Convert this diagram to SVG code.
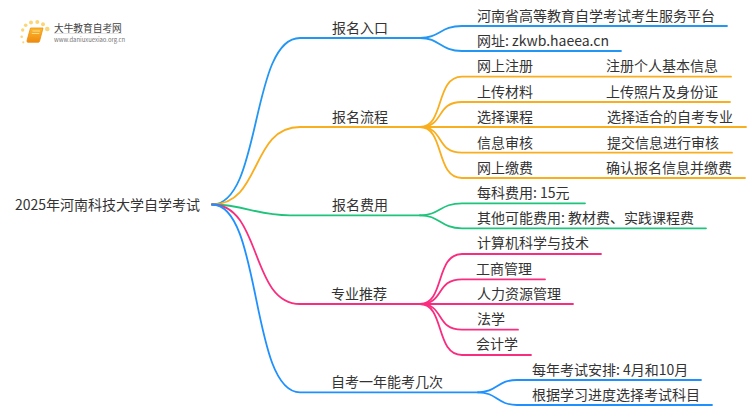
<svg xmlns="http://www.w3.org/2000/svg" width="750" height="410" viewBox="0 0 750 410">
<defs><linearGradient id="bk" x1="0" y1="0" x2="0" y2="1"><stop offset="0" stop-color="#fbb92d"/><stop offset="1" stop-color="#f08a10"/></linearGradient></defs>
<style>
text{font-family:"Noto Sans CJK SC","Noto Sans",sans-serif;font-size:14px;fill:#333}
.c{fill:none;stroke-width:1.8;stroke-linecap:round}
.b{stroke:#2196f3}.o{stroke:#f9ae1e}.g{stroke:#1fc47c}.p{stroke:#f92d7f}.n{stroke:#1e90ff}
.d{fill:#fbd678}
</style>
<rect width="750" height="410" fill="#fff"/>
<g id="logo">
<circle class="d" cx="22.700" cy="30" r="1.700"/><circle class="d" cx="25.700" cy="25.300" r="1.800"/><circle class="d" cx="31" cy="22.500" r="2"/><circle class="d" cx="37.300" cy="22" r="2"/><circle class="d" cx="43" cy="24.300" r="2"/><circle class="d" cx="47.300" cy="29" r="2.300"/><circle class="d" cx="21.700" cy="36.700" r="1.300"/><circle class="d" cx="23.300" cy="42.300" r="1.100"/>
<path d="M30.500 28h12.500l-3.500 13.500q-.3 .8-1.200 .8h-10.300q-1.500 0-1-1.800z" fill="url(#bk)" stroke="#ec8f10" stroke-width="0.800"/>
<path d="M32.500 31h7.500M31.800 33.500h7.500" stroke="#ffe9a8" stroke-width="0.800"/>
<text x="54" y="32" style="font-size:9.700px;fill:#444">大牛教育自考网</text>
<path d="M54 33.500h68" stroke="#ddd" stroke-width="0.800"/>
<text x="54" y="41.500" style="font-size:5.900px;fill:#777">www.daniuxuexiao.org.cn</text>
</g>
<g id="connectors">
<path class="c b" d="M212 204.500C262 204.500 250 38 300 38H420"/>
<path class="c o" d="M212 204.500C262 204.500 250 127 300 127H420"/>
<path class="c g" d="M212 204.500C245 204.500 255 215.300 290 215.300H420"/>
<path class="c p" d="M212 204.500C262 204.500 250 304 300 304H420"/>
<path class="c n" d="M212 204.500C262 204.500 250 392.300 300 392.300H478"/>
<path class="c b" d="M420 38C440 38 440 26 462 26H727"/>
<path class="c b" d="M420 38C440 38 440 51 462 51H621"/>
<path class="c o" d="M420 127C445 127 435 76.700 462 76.700H731"/>
<path class="c o" d="M420 127C445 127 435 102 462 102H730"/>
<path class="c o" d="M420 127H746"/>
<path class="c o" d="M420 127C445 127 435 152.700 462 152.700H732"/>
<path class="c o" d="M420 127C445 127 435 178 462 178H745"/>
<path class="c g" d="M420 215.300C440 215.300 440 203.300 462 203.300H585"/>
<path class="c g" d="M420 215.300C440 215.300 440 228.300 462 228.300H706"/>
<path class="c p" d="M420 304C445 304 435 254 462 254H601"/>
<path class="c p" d="M420 304C445 304 435 279.300 462 279.300H545"/>
<path class="c p" d="M420 304H573"/>
<path class="c p" d="M420 304C445 304 435 329.700 462 329.700H518"/>
<path class="c p" d="M420 304C445 304 435 355 462 355H531"/>
<path class="c n" d="M478 392.300C497 392.300 497 380 517 380H701"/>
<path class="c n" d="M478 392.300C497 392.300 497 405 517 405H712"/>
</g>
<g id="root"><text x="15" y="210">2025年河南科技大学自学考试</text></g>
<g id="n1"><text x="332" y="33">报名入口</text></g>
<g id="n2"><text x="332" y="121.500">报名流程</text></g>
<g id="n3"><text x="332" y="210">报名费用</text></g>
<g id="n4"><text x="331" y="298.500">专业推荐</text></g>
<g id="n5"><text x="331" y="387">自考一年能考几次</text></g>
<g id="n1a"><text x="477" y="21">河南省高等教育自学考试考生服务平台</text></g>
<g id="n1b"><text x="477" y="46">网址: zkwb.haeea.cn</text></g>
<g id="n2a"><text x="477" y="71">网上注册</text><text x="606" y="71">注册个人基本信息</text></g>
<g id="n2b"><text x="477" y="96.500">上传材料</text><text x="606" y="96.500">上传照片及身份证</text></g>
<g id="n2c"><text x="477" y="121.500">选择课程</text><text x="607" y="121.500">选择适合的自考专业</text></g>
<g id="n2d"><text x="477" y="147.500">信息审核</text><text x="607" y="147.500">提交信息进行审核</text></g>
<g id="n2e"><text x="477" y="172.500">网上缴费</text><text x="606" y="172.500">确认报名信息并缴费</text></g>
<g id="n3a"><text x="477" y="198">每科费用: 15元</text></g>
<g id="n3b"><text x="477" y="223">其他可能费用: 教材费、实践课程费</text></g>
<g id="n4a"><text x="477" y="248">计算机科学与技术</text></g>
<g id="n4b"><text x="476" y="273.500">工商管理</text></g>
<g id="n4c"><text x="477" y="298.500">人力资源管理</text></g>
<g id="n4d"><text x="477" y="324">法学</text></g>
<g id="n4e"><text x="476" y="349">会计学</text></g>
<g id="n5a"><text x="532" y="374.500">每年考试安排: 4月和10月</text></g>
<g id="n5b"><text x="532" y="400">根据学习进度选择考试科目</text></g>
</svg>
